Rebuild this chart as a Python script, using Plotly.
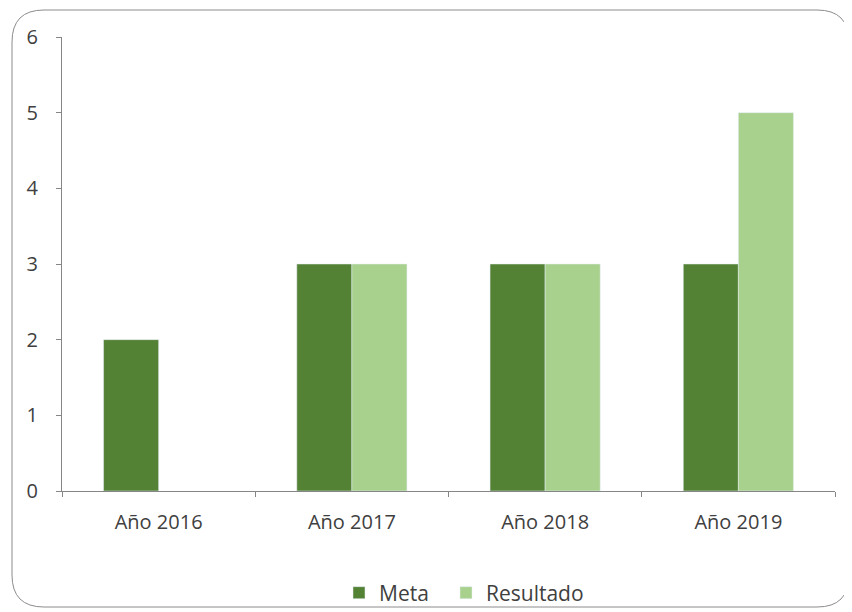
import plotly.graph_objects as go

categories = ["Año 2016", "Año 2017", "Año 2018", "Año 2019"]
meta = [2, 3, 3, 3]
resultado = [None, 3, 3, 5]
y_ticks = [0, 1, 2, 3, 4, 5, 6]

OFF = 8  # browser body margin
W, H = 852 - OFF, 612 - OFF
# plot area in page pixels: x 62..835, y 37..491
ml, mt = 62 - OFF, 37 - OFF
mr, mb = 852 - 835, 612 - 491
pw, ph = W - ml - mr, H - mt - mb

def px2paper_x(px):
    return (px - OFF - ml) / pw

def px2paper_y(py):
    return (H - mb - (py - OFF)) / ph

fig = go.Figure()
fig.add_trace(go.Bar(x=categories, y=meta, name="Meta", marker_color="#548235", legend="legend"))
fig.add_trace(go.Bar(x=categories, y=resultado, name="Resultado", marker_color="#A9D18E",
                     legend="legend2"))

# rounded border
x0, x1 = 12, 849
y0, y1 = 10, 607
r = 32
rx, ry = r / pw, r / ph
X0, X1 = px2paper_x(x0), px2paper_x(x1)
Y0, Y1 = px2paper_y(y0), px2paper_y(y1)
path = (f"M {X0+rx},{Y0} L {X1-rx},{Y0} Q {X1},{Y0} {X1},{Y0-ry} "
        f"L {X1},{Y1+ry} Q {X1},{Y1} {X1-rx},{Y1} "
        f"L {X0+rx},{Y1} Q {X0},{Y1} {X0},{Y1+ry} "
        f"L {X0},{Y0-ry} Q {X0},{Y0} {X0+rx},{Y0} Z")
fig.add_shape(type="path", path=path, xref="paper", yref="paper",
              line=dict(color="#8c8c8c", width=1), layer="below")

FS = 20
LFS = 21
font = dict(family="Open Sans, Liberation Sans, sans-serif", size=FS, color="#404040")
leg_common = dict(orientation="h", yanchor="middle", xanchor="left", y=px2paper_y(593),
                  bgcolor="rgba(0,0,0,0)", borderwidth=0,
                  font=dict(size=LFS, color="#404040"), itemwidth=30)
fig.update_layout(
    width=W, height=H,
    margin=dict(l=ml, r=mr, t=mt, b=mb, autoexpand=False),
    paper_bgcolor="white", plot_bgcolor="white",
    barmode="group", bargap=0.43, bargroupgap=0,
    font=font,
    showlegend=True,
    legend=dict(x=px2paper_x(339), **leg_common),
    legend2=dict(x=px2paper_x(446), **leg_common),
    xaxis=dict(showline=True, linecolor="#868686", linewidth=1, ticks="outside",
               tickson="boundaries", ticklen=5, tickcolor="#868686", showgrid=False,
               ticklabelstandoff=13, automargin=False,
               tickfont=dict(size=FS, color="#404040")),
    yaxis=dict(range=[0, 6], tickvals=y_ticks, showline=True, linecolor="#868686",
               linewidth=1, ticks="outside", ticklen=5, tickcolor="#868686",
               showgrid=False, zeroline=False, ticklabelstandoff=14, automargin=False,
               tickfont=dict(size=FS, color="#404040")),
)
fig.write_html("out.html")
